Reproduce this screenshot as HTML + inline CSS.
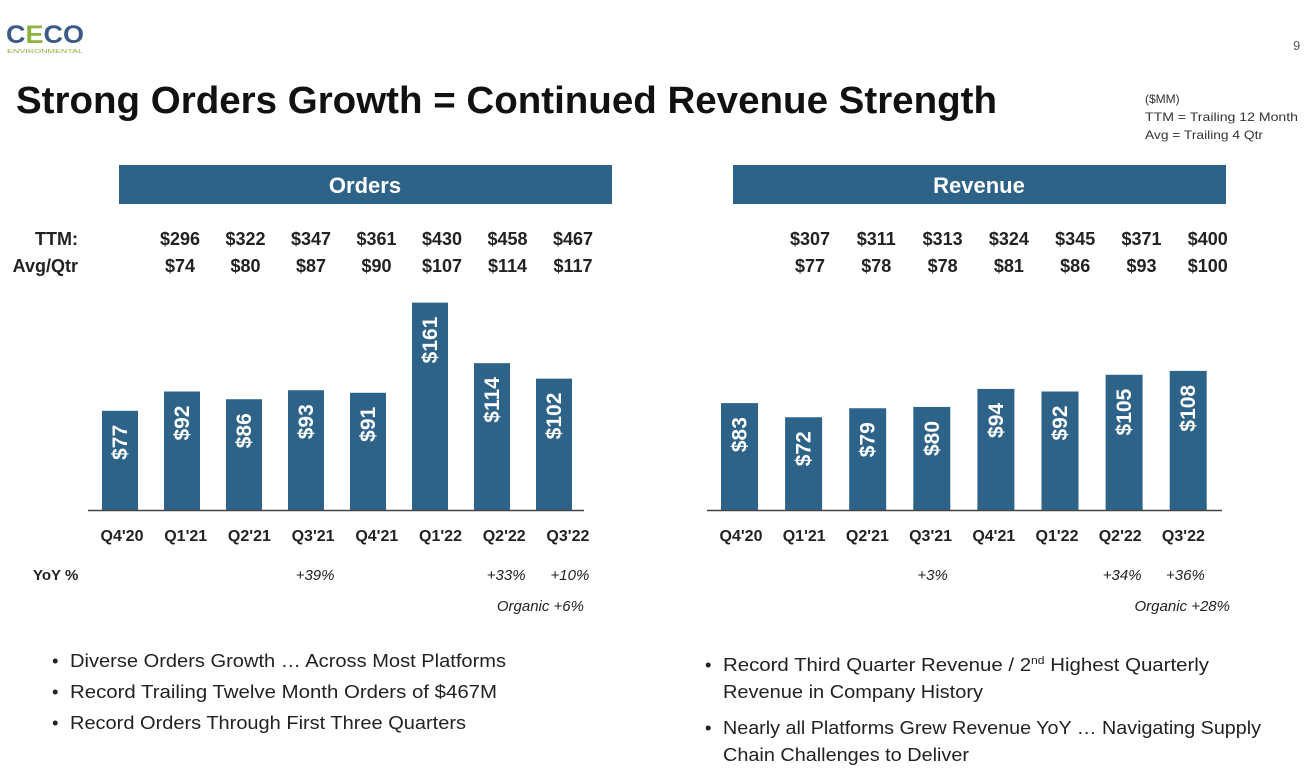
<!DOCTYPE html>
<html><head><meta charset="utf-8"><style>
body{margin:0;background:#fff;width:1308px;height:772px;overflow:hidden;font-family:"Liberation Sans",sans-serif}
svg text{font-family:"Liberation Sans",sans-serif}
</style></head><body>
<svg id="s" width="1308" height="772" xmlns="http://www.w3.org/2000/svg">
<g>
<text x="6" y="43" font-size="25" font-weight="bold" fill="#3b5a85" textLength="78" lengthAdjust="spacingAndGlyphs">C<tspan fill="#8cb43c">E</tspan>CO</text>
<text x="7" y="53" font-size="5.5" fill="#8cb43c" textLength="76" lengthAdjust="spacingAndGlyphs">ENVIRONMENTAL</text>
</g>
<text x="1293" y="50" font-size="13" fill="#555">9</text>
<text x="16" y="113" font-size="38" font-weight="bold" fill="#111" textLength="981" lengthAdjust="spacingAndGlyphs">Strong Orders Growth = Continued Revenue Strength</text>
<g font-size="12" fill="#333">
<text x="1145" y="103">($MM)</text>
<text x="1145" y="121" textLength="153" lengthAdjust="spacingAndGlyphs">TTM = Trailing 12 Month</text>
<text x="1145" y="139" textLength="118" lengthAdjust="spacingAndGlyphs">Avg = Trailing 4 Qtr</text>
</g>
<g id="charts"></g>
<g font-size="18.5" fill="#222">
<text x="52" y="667">•</text><text x="70" y="667" textLength="436" lengthAdjust="spacingAndGlyphs">Diverse Orders Growth … Across Most Platforms</text>
<text x="52" y="698">•</text><text x="70" y="698" textLength="427" lengthAdjust="spacingAndGlyphs">Record Trailing Twelve Month Orders of $467M</text>
<text x="52" y="729">•</text><text x="70" y="729" textLength="396" lengthAdjust="spacingAndGlyphs">Record Orders Through First Three Quarters</text>
</g>
<g font-size="18.5" fill="#222">
<text x="705" y="671">•</text><text x="723" y="671" textLength="486" lengthAdjust="spacingAndGlyphs">Record Third Quarter Revenue / 2<tspan font-size="11" dy="-7">nd</tspan><tspan dy="7"> Highest Quarterly</tspan></text>
<text x="723" y="698" textLength="260" lengthAdjust="spacingAndGlyphs">Revenue in Company History</text>
<text x="705" y="734">•</text><text x="723" y="734" textLength="538" lengthAdjust="spacingAndGlyphs">Nearly all Platforms Grew Revenue YoY … Navigating Supply</text>
<text x="723" y="761" textLength="246" lengthAdjust="spacingAndGlyphs">Chain Challenges to Deliver</text>
</g>
</svg>
<script>
const categories=["Q4'20","Q1'21","Q2'21","Q3'21","Q4'21","Q1'22","Q2'22","Q3'22"];
const ordersValues=[77,92,86,93,91,161,114,102];
const revenueValues=[83,72,79,80,94,92,105,108];
const ordersTTM=["$296","$322","$347","$361","$430","$458","$467"];
const ordersAvg=["$74","$80","$87","$90","$107","$114","$117"];
const revenueTTM=["$307","$311","$313","$324","$345","$371","$400"];
const revenueAvg=["$77","$78","$78","$81","$86","$93","$100"];
const ordersYoY=["","","","+39%","","","+33%","+10%"];
const revenueYoY=["","","","+3%","","","+34%","+36%"];
const NS="http://www.w3.org/2000/svg";
const root=document.getElementById('charts');
function mk(tag,attrs,parent,txt){const e=document.createElementNS(NS,tag);for(const k in attrs)e.setAttribute(k,attrs[k]);if(txt!==undefined)e.textContent=txt;parent.appendChild(e);return e;}
const baseY=510, scale=1.288;
function y(v){return baseY-v*scale;}
function drawChart(o){
  const g=mk('g',{},root);
  
  
  const hb=mk('rect',{x:o.hx,y:165,width:493,height:39,fill:'#2e6389'},g);
  
  
  const ht=mk('text',{x:o.hx+246,y:193,'font-size':22,'font-weight':'bold',fill:'#fff','text-anchor':'middle'},g,o.title);
  
  
  const bx=i=>o.x0+i*o.pitch;
  const cx=i=>bx(i)+o.bw/2;
  const lx=i=>o.lx0+i*o.lp;
  o.values.forEach((v,i)=>{
    const r=mk('rect',{x:bx(i),y:y(v),width:o.bw,height:v*scale,fill:'#2e6389'},g);
    
    
    const ty=y(v)+14;
    const t=mk('text',{x:0,y:0,'font-size':21,'font-weight':'bold',fill:'#fff','text-anchor':'end',transform:`translate(${cx(i)+7},${ty}) rotate(-90)`},g,'$'+v);
    
    
    const c=mk('text',{x:lx(i),y:541,'font-size':16,'font-weight':'bold',fill:'#222','text-anchor':'middle'},g,categories[i]);
    
    
    if(o.yoy[i]){const yy=mk('text',{x:lx(i)+2,y:580,'font-size':15,'font-style':'italic',fill:'#222','text-anchor':'middle'},g,o.yoy[i]);
      
      }
  });
  o.ttm.forEach((s,k)=>{
    const x=o.tx0+k*o.tp;
    const t=mk('text',{x:x,y:245,'font-size':18,'font-weight':'bold',fill:'#222','text-anchor':'middle'},g,s);
    
    
    const a=mk('text',{x:x,y:272,'font-size':18,'font-weight':'bold',fill:'#222','text-anchor':'middle'},g,o.avg[k]);
    
    
  });
  const ax=mk('line',{x1:o.ax1,x2:o.ax2,y1:baseY+0.5,y2:baseY+0.5,stroke:'#444','stroke-width':1.5},g);
  
  
  const org=mk('text',{x:o.orgX,y:611,'font-size':15,'font-style':'italic',fill:'#222','text-anchor':'end'},g,o.org);
  
  
}
drawChart({name:'orders',title:'Orders',hx:119,x0:102,pitch:62,bw:36,lx0:122,lp:63.7,tx0:180,tp:65.5,values:ordersValues,ttm:ordersTTM,avg:ordersAvg,yoy:ordersYoY,ax1:88,ax2:584,orgX:584,org:'Organic +6%'});
drawChart({name:'revenue',title:'Revenue',hx:733,x0:721,pitch:64.1,bw:37,lx0:741,lp:63.2,tx0:810,tp:66.3,values:revenueValues,ttm:revenueTTM,avg:revenueAvg,yoy:revenueYoY,ax1:707,ax2:1222,orgX:1230,org:'Organic +28%'});
const lab=document.getElementById('s');
[['TTM:',245,'ttm-row-label'],['Avg/Qtr',272,'avg-row-label']].forEach(r=>{
  const t=mk('text',{x:78,y:r[1],'font-size':18,'font-weight':'bold',fill:'#222','text-anchor':'end'},lab,r[0]);
  
  
});
const yl=mk('text',{x:33,y:580,'font-size':15,'font-weight':'bold',fill:'#222'},lab,'YoY %');


</script>
</body></html>
